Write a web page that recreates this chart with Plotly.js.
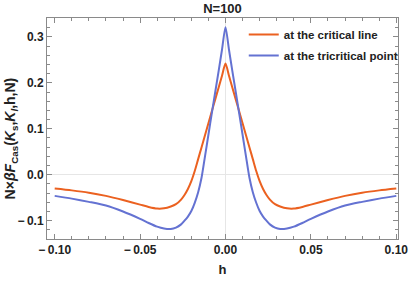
<!DOCTYPE html>
<html>
<head>
<meta charset="utf-8">
<script src="https://cdn.plot.ly/plotly-3.0.1.min.js"></script>
<style>html,body{margin:0;padding:0;background:#fff;}</style>
</head>
<body>
<div id="chart" style="width:415px;height:282px;"></div>
<script>
var hValues = [-0.100,-0.090,-0.080,-0.070,-0.060,-0.050,-0.045,-0.040,-0.036,-0.032,-0.029,-0.026,-0.024,-0.022,-0.020,-0.018,-0.016,-0.014,-0.012,-0.010,-0.008,-0.006,-0.004,-0.002,0,
               0.002,0.004,0.006,0.008,0.010,0.012,0.014,0.016,0.018,0.020,0.022,0.024,0.026,0.029,0.032,0.036,0.040,0.045,0.050,0.060,0.070,0.080,0.090,0.100];
var criticalLine = [-0.030,-0.034,-0.039,-0.046,-0.055,-0.065,-0.070,-0.0735,-0.073,-0.069,-0.064,-0.054,-0.044,-0.031,-0.014,0.008,0.034,0.060,0.086,0.112,0.138,0.164,0.190,0.216,0.242,
                    0.216,0.190,0.164,0.138,0.112,0.086,0.060,0.034,0.008,-0.014,-0.031,-0.044,-0.054,-0.064,-0.069,-0.073,-0.0735,-0.070,-0.065,-0.055,-0.046,-0.039,-0.034,-0.030];
var tricriticalPoint = [-0.046,-0.052,-0.059,-0.067,-0.080,-0.096,-0.105,-0.113,-0.117,-0.118,-0.115,-0.108,-0.100,-0.091,-0.079,-0.061,-0.038,-0.006,0.040,0.087,0.134,0.180,0.226,0.273,0.321,
                        0.273,0.226,0.180,0.134,0.087,0.040,-0.006,-0.038,-0.061,-0.079,-0.091,-0.100,-0.108,-0.115,-0.118,-0.117,-0.113,-0.105,-0.096,-0.080,-0.067,-0.059,-0.052,-0.046];
var seriesNames = ["at the critical line", "at the tricritical point"];
var xTickVals = [-0.10,-0.05,0.00,0.05,0.10];
var xTickText = ["\u2212\u20090.10","\u2212\u20090.05","0.00","0.05","0.10"];
var yTickVals = [-0.1,0.0,0.1,0.2,0.3];
var yTickText = ["\u2212\u20090.1","0.0","0.1","0.2","0.3"];

var font = "'Liberation Sans', Arial, sans-serif";
var traces = [
  {x: hValues, y: criticalLine, name: seriesNames[0], mode: "lines", legendgroup: "a",
   line: {color: "#EB6120", width: 2, shape: "spline", smoothing: 0.7}},
  {x: hValues, y: tricriticalPoint, name: seriesNames[1], mode: "lines", legendgroup: "b",
   line: {color: "#6472D2", width: 2, shape: "spline", smoothing: 0.7}}
];
var axisCommon = {
  showline: true, linecolor: "#8a8a8a", linewidth: 1, mirror: "allticks",
  ticks: "inside", ticklen: 5, tickwidth: 1, tickcolor: "#8a8a8a",
  showgrid: false, zeroline: true, zerolinecolor: "#e6e6e6", zerolinewidth: 1,
  tickfont: {family: font, size: 12, color: "#222", weight: "bold"},
  tickmode: "array", automargin: false
};
var layout = {
  width: 415, height: 282, autosize: false,
  margin: {l: 47, r: 13, t: 18, b: 43},
  paper_bgcolor: "#fff", plot_bgcolor: "#fff",
  title: {text: "<b>N=100</b>", font: {family: font, size: 13, color: "#222"},
          x: 0.5, xref: "paper", xanchor: "center", y: 1 - 8/282, yref: "container", yanchor: "middle", automargin: false},
  xaxis: Object.assign({}, axisCommon, {
    range: [-0.1045, 0.101], tickvals: xTickVals, ticktext: xTickText,
    minor: {dtick: 0.01, ticks: "inside", ticklen: 3, tickcolor: "#8a8a8a", showgrid: false},
    title: {text: "<b>h</b>", font: {family: font, size: 13, color: "#222"}, standoff: 8}
  }),
  yaxis: Object.assign({}, axisCommon, {
    range: [-0.1398, 0.341], tickvals: yTickVals, ticktext: yTickText,
    minor: {dtick: 0.02, ticks: "inside", ticklen: 3, tickcolor: "#8a8a8a", showgrid: false}
  }),
  showlegend: true,
  legend: {x: (246 - 47)/355, xref: "paper", xanchor: "left", y: (239 - 20)/221, yref: "paper", yanchor: "top",
           bgcolor: "rgba(0,0,0,0)", borderwidth: 0, tracegroupgap: 2, traceorder: "grouped",
           font: {family: font, size: 11.5, color: "#222", weight: "bold"}},
  annotations: [{
    text: "<b>N\u00d7<i>\u03b2F</i><sub>Cas</sub>(<i>K</i><sub>s</sub>,<i>K</i><sub><i>l</i></sub>,h,N)</b>",
    textangle: -90, xref: "paper", yref: "paper", x: (11 - 47)/355, y: (239 - 138)/221,
    xanchor: "center", yanchor: "middle", showarrow: false,
    font: {family: font, size: 14, color: "#222"}
  }]
};
Plotly.newPlot("chart", traces, layout, {displayModeBar: false, staticPlot: true});
</script>
</body>
</html>
